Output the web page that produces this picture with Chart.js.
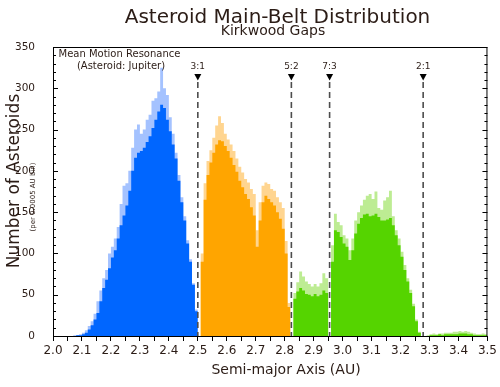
<!DOCTYPE html>
<html>
<head>
<meta charset="utf-8">
<script src="https://cdn.jsdelivr.net/npm/chart.js@4.4.1/dist/chart.umd.min.js"></script>
<style>
  html, body { margin: 0; padding: 0; background: #fff; }
  #wrap { width: 500px; height: 387px; }
</style>
</head>
<body>
<div id="wrap"><canvas id="beltChart" width="500" height="387"></canvas></div>
<script>
// bins are 0.01 AU wide, starting at 2.00 AU (150 bins up to 3.50)
const binStart = 2.0;
const binWidth = 0.01;

// solid part of the histogram (counts)
const coreCounts = [
  0, 0, 0, 0, 0, 0, 0, 0, 1, 1,
  2, 4, 8, 13, 20, 28, 42, 58, 68, 82,
  95, 104, 118, 134, 146, 158, 176, 200, 216, 222,
  224, 228, 235, 242, 252, 262, 272, 280, 276, 262,
  248, 232, 215, 188, 162, 140, 112, 90, 62, 30,
  0, 90, 165, 195, 210, 222, 232, 237, 236, 230,
  224, 216, 207, 199, 188, 180, 172, 166, 156, 146,
  108, 140, 162, 170, 166, 162, 158, 150, 142, 130,
  100, 35, 0, 45, 54, 58, 55, 51, 50, 48,
  51, 48, 50, 55, 52, 0, 90, 128, 126, 120,
  112, 108, 92, 104, 124, 136, 143, 147, 148, 145,
  146, 148, 144, 140, 140, 141, 143, 134, 122, 110,
  96, 80, 66, 52, 36, 18, 4, 0, 0, 0,
  1, 1, 1, 2, 1, 2, 2, 2, 2, 2,
  3, 3, 3, 2, 2, 1, 1, 1, 1, 1
];

// highest spikes inside each bin (the light fringe)
const peakCounts = [
  0, 0, 0, 0, 0, 0, 0, 1, 1, 2,
  4, 7, 12, 18, 27, 42, 55, 70, 80, 100,
  108, 118, 132, 160, 182, 185, 200, 228, 250, 256,
  245, 250, 262, 268, 285, 288, 296, 325, 300, 292,
  265, 245, 222, 195, 168, 145, 116, 93, 64, 32,
  0, 100, 185, 212, 225, 240, 255, 266, 258, 245,
  238, 232, 224, 215, 205, 198, 190, 186, 178, 172,
  128, 162, 182, 186, 184, 178, 176, 168, 162, 155,
  115, 40, 0, 52, 65, 78, 72, 66, 63, 60,
  63, 60, 64, 76, 70, 0, 110, 148, 138, 134,
  122, 118, 104, 118, 140, 150, 158, 165, 170, 172,
  166, 175, 155, 153, 164, 168, 176, 145, 128, 118,
  102, 86, 70, 56, 39, 20, 5, 0, 0, 1,
  2, 3, 2, 3, 3, 4, 4, 4, 5, 5,
  6, 5, 6, 5, 4, 3, 2, 2, 3, 2
];

// Kirkwood gaps (Jupiter mean motion resonances)
const resonanceNames = ['3:1', '5:2', '7:3', '2:1'];
const resonanceAU = [2.50, 2.823, 2.955, 3.278];

// colour zones: inner / middle / outer belt
const zoneEdges = [2.0, 2.5, 2.82, 3.5];
const coreColors = ['#0066ff', '#ffa500', '#55d400'];
const fringeColors = ['#a4c2ff', '#ffd590', '#bdec93'];

const textColor = '#2b1c16';
const FONT = "'DejaVu Sans', sans-serif";

// step outline for one zone: a point on each bin's left edge, closed at the right edge
function zoneSteps(counts, z) {
  const pts = [];
  let lastRight = null;
  counts.forEach((n, i) => {
    const left = binStart + binWidth * i;
    const mid = left + binWidth / 2;
    if (mid >= zoneEdges[z] && mid < zoneEdges[z + 1]) {
      pts.push({ x: left, y: n });
      lastRight = left + binWidth;
    }
  });
  if (lastRight !== null) pts.push({ x: lastRight, y: 0 });
  return pts;
}

function stepDataset(counts, z, colors, name) {
  return {
    label: name + z,
    data: zoneSteps(counts, z),
    stepped: 'before',
    fill: 'origin',
    backgroundColor: colors[z],
    borderWidth: 0,
    pointRadius: 0
  };
}

// frame, inner ticks, resonance markers and all the text
const decorPlugin = {
  id: 'decor',
  afterDraw(chart) {
    const c = chart.ctx;
    const a = chart.chartArea;
    const xs = chart.scales.x;
    const ys = chart.scales.y;
    c.save();

    // minor/major ticks on left and right, pointing inward
    c.strokeStyle = '#000';
    c.lineWidth = 1;
    for (let v = 0; v <= 350; v += 10) {
      const py = Math.round(ys.getPixelForValue(v)) + 0.5;
      const len = v % 50 === 0 ? 5 : 3;
      c.beginPath();
      c.moveTo(a.left, py); c.lineTo(a.left + len, py);
      c.moveTo(a.right, py); c.lineTo(a.right - len, py);
      c.stroke();
    }

    // resonance markers
    resonanceAU.forEach((au, i) => {
      const px = xs.getPixelForValue(au);
      c.setLineDash([6, 4]);
      c.strokeStyle = '#4d4d4d';
      c.lineWidth = 1.6;
      c.beginPath();
      c.moveTo(px, 82);
      c.lineTo(px, a.bottom);
      c.stroke();
      c.setLineDash([]);
      c.fillStyle = '#000';
      c.beginPath();
      c.moveTo(px - 3.5, 74);
      c.lineTo(px + 3.5, 74);
      c.lineTo(px, 80.5);
      c.closePath();
      c.fill();
      c.fillStyle = textColor;
      c.font = '9px ' + FONT;
      c.textAlign = 'center';
      c.textBaseline = 'middle';
      c.fillText(resonanceNames[i], px, 66.5);
    });

    // plot frame
    c.strokeStyle = '#000';
    c.lineWidth = 1;
    c.strokeRect(a.left + 0.5, a.top + 0.5, a.right - a.left - 1, a.bottom - a.top);

    // legend-like note
    c.fillStyle = textColor;
    c.textBaseline = 'middle';
    c.font = '10px ' + FONT;
    c.textAlign = 'left';
    c.fillText('Mean Motion Resonance', 58.5, 54);
    c.textAlign = 'center';
    c.fillText('(Asteroid: Jupiter)', 121, 66.5);

    // titles
    c.textBaseline = 'alphabetic';
    c.font = '20px ' + FONT;
    c.fillText('Asteroid Main-Belt Distribution', 277.5, 23);
    c.font = '14px ' + FONT;
    c.fillText('Kirkwood Gaps', 273, 35);
    c.fillText('Semi-major Axis (AU)', 286, 373.5);

    // y axis title, rotated
    c.save();
    c.translate(19, 181);
    c.rotate(-Math.PI / 2);
    c.font = '17px ' + FONT;
    c.fillText('Number of Asteroids', 0, 0);
    c.restore();
    c.save();
    c.translate(34.5, 197);
    c.rotate(-Math.PI / 2);
    c.font = '7px ' + FONT;
    c.fillText('(per 0.0005 AU bin)', 0, 0);
    c.restore();

    c.restore();
  }
};

const ctx = document.getElementById('beltChart').getContext('2d');

// solid layers first so they are drawn on top of the light fringe
const datasets = [];
[0, 1, 2].forEach(z => datasets.push(stepDataset(coreCounts, z, coreColors, 'core')));
[0, 1, 2].forEach(z => datasets.push(stepDataset(peakCounts, z, fringeColors, 'fringe')));

new Chart(ctx, {
  type: 'line',
  data: { datasets: datasets },
  options: {
    responsive: false,
    animation: false,
    devicePixelRatio: 1,
    layout: { padding: { left: 0, right: 10, top: 47, bottom: 0 } },
    plugins: {
      legend: { display: false },
      tooltip: { enabled: false },
      title: { display: false }
    },
    scales: {
      x: {
        type: 'linear',
        min: 2.0,
        max: 3.5,
        offset: false,
        afterFit: (scale) => { scale.height = 51; },
        border: { display: false },
        grid: { drawOnChartArea: false, drawTicks: true, tickLength: 5, color: '#000', lineWidth: 1 },
        ticks: {
          stepSize: 0.05,
          autoSkip: false,
          maxRotation: 0,
          padding: 3,
          color: textColor,
          font: { family: FONT, size: 12 },
          callback: (value) => {
            const v = Math.round(value * 100);
            return v % 10 === 0 ? (v / 100).toFixed(1) : '';
          }
        }
      },
      y: {
        min: 0,
        max: 350,
        afterFit: (scale) => { scale.width = 53; },
        border: { display: false },
        grid: { display: false },
        ticks: {
          stepSize: 50,
          padding: 10,
          color: textColor,
          font: { family: FONT, size: 10.5 }
        }
      }
    }
  },
  plugins: [decorPlugin]
});
</script>
</body>
</html>
